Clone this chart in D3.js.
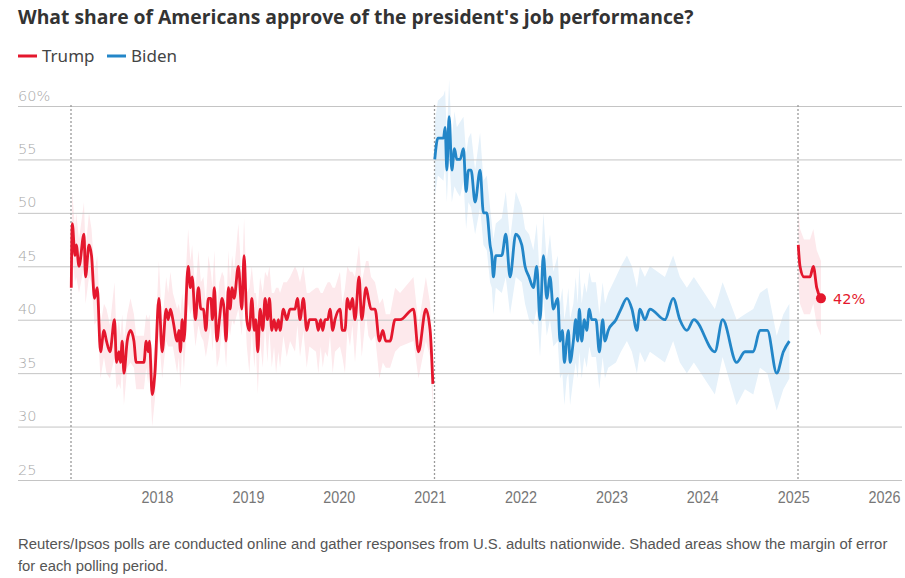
<!DOCTYPE html>
<html><head><meta charset="utf-8">
<script src="https://cdn.jsdelivr.net/npm/d3@7"></script>
<style>
body{margin:0;background:#fff;}
svg{display:block;}
</style></head><body>
<svg id="chart" width="905" height="578"></svg>
<script>
// ---------- DATA ----------
const titleText = "What share of Americans approve of the president's job performance?";
const footLines = ["Reuters/Ipsos polls are conducted online and gather responses from U.S. adults nationwide. Shaded areas show the margin of error",
                   "for each polling period."];
const seriesNames = ["Trump", "Biden"];
const yTicks = [25, 30, 35, 40, 45, 50, 55, 60];
const xTickYears = [2018, 2019, 2020, 2021, 2022, 2023, 2024, 2025, 2026];
const inaugurations = ["2017-01-20", "2021-01-20", "2025-01-20"];

// dates as decimal years
const trumpDates = [
 2017.055,2017.066,2017.096,2017.110,2017.140,2017.195,2017.212,2017.250,2017.278,2017.311,
 2017.341,2017.377,2017.415,2017.443,2017.481,2017.531,2017.553,2017.580,2017.597,2017.616,
 2017.635,2017.671,2017.707,2017.745,2017.770,2017.855,2017.880,2017.902,2017.916,2017.946,
 2017.976,2018.020,2018.056,2018.100,2018.122,2018.147,2018.174,2018.221,2018.240,2018.257,
 2018.276,2018.295,2018.342,2018.367,2018.386,2018.422,2018.455,2018.482,2018.510,2018.537,
 2018.565,2018.592,2018.609,2018.631,2018.658,2018.686,2018.716,2018.738,2018.760,2018.785,
 2018.804,2018.826,2018.848,2018.895,2018.933,2018.958,2018.988,2019.016,2019.043,2019.071,
 2019.087,2019.109,2019.134,2019.164,2019.189,2019.215,2019.237,2019.263,2019.288,2019.310,
 2019.336,2019.354,2019.391,2019.428,2019.464,2019.519,2019.545,2019.574,2019.611,2019.648,
 2019.677,2019.750,2019.775,2019.802,2019.824,2019.849,2019.879,2019.904,2019.934,2019.959,
 2020.014,2020.040,2020.069,2020.095,2020.124,2020.150,2020.179,2020.223,2020.253,2020.300,
 2020.326,2020.355,2020.399,2020.447,2020.484,2020.517,2020.564,2020.619,2020.674,2020.821,
 2020.876,2020.957,2021.004,2021.034];
const trumpApproval = [
 43,49,46,47,45,48,44,47,46,42,
 43,37,39,38,37,40,36,37,36,38,
 35,38,39,38,36,36,38,37,38,33,
 35,42,37,41,40,41,40,38,39,37,
 40,38,45,43,44,40,43,41,41,39,
 42,42,40,43,38,40,42,41,38,43,
 41,43,42,45,41,46,40,39,42,39,
 40,37,41,39,42,40,42,39,40,39,
 40,39,41,40,41,41,42,40,42,39,
 40,40,39,40,39,40,40,41,39,40,
 41,39,39,42,41,42,40,44,40,43,
 42,41,41,38,39,38,38,40,40,41,
 37,41,39,34];
const trumpMargin = [
 2.5,3,2.5,3,2.5,3,2.5,3,2.5,2.5,
 3,2.5,2.5,3,2.5,3.5,2.5,3,2.5,2.5,
 3,2.5,3,2.5,2.5,2.5,2.5,3,2.5,3,
 2.5,3.5,2.5,3,2.5,3.5,2.5,3,2.5,3.5,
 2.5,3,3.5,2.5,3,2.5,3.5,2.5,3,2.5,
 4,2.5,3,3.5,2.5,3.5,2.5,3,2.5,3.5,
 2.5,3,2.5,4,2.5,3.5,2.5,4,3,3.5,
 2.5,4,3,3.5,2.5,4,3,3.5,2.5,4,
 3,3.5,2.5,3.5,3,4,2.5,3.5,3,3.5,
 2.5,3,4,2.5,3.5,3,3.5,2.5,4,3,
 3.5,2.5,4,3,3.5,2.5,4,3,3.5,2.5,
 3.5,3,2.5,3.5,3,2.5,2.5,3,2.5,3,
 2.5,3,2.5,2.5];

const bidenDates = [
 2021.055,2021.089,2021.151,2021.169,2021.188,2021.213,2021.243,2021.272,2021.298,2021.334,
 2021.371,2021.400,2021.426,2021.455,2021.499,2021.554,2021.591,2021.628,2021.664,2021.683,
 2021.701,2021.727,2021.793,2021.837,2021.884,2021.947,2022.013,2022.049,2022.093,2022.141,
 2022.178,2022.214,2022.251,2022.288,2022.324,2022.361,2022.409,2022.434,2022.460,2022.482,
 2022.508,2022.526,2022.545,2022.581,2022.607,2022.629,2022.647,2022.673,2022.702,2022.728,
 2022.757,2022.783,2022.830,2022.867,2022.904,2022.929,2022.965,2023.050,2023.105,2023.171,
 2023.226,2023.281,2023.314,2023.369,2023.424,2023.589,2023.680,2023.754,2023.831,2023.908,
 2024.139,2024.224,2024.378,2024.469,2024.561,2024.634,2024.715,2024.818,2024.891,2024.957];
const bidenApproval = [
 55,57,57,58,54,59,54,56,55,55,
 56,52,54,54,51,54,50,50,47,46,
 44,46,46,48,44,48,47,45,44,43,
 45,40,46,42,44,41,42,38,39,36,
 38,39,36,38,40,38,41,38,40,39,
 41,40,40,37,40,38,39,40,41,42,
 41,39,41,40,41,40,42,40,39,40,
 37,40,36,37,37,39,39,35,37,38];
const bidenMargin = [
 3.5,3.5,4,3.5,3,3.5,3,3.5,3,3.5,
 3,3.5,3,3.5,3,3.5,3,3.5,3.5,3,
 3.5,3,3.5,4,3.5,4,3.5,3.5,4,3.5,
 4,3.5,4,3.5,4,3.5,4,3.5,4,4,
 3.5,4,4,3.5,4,3.5,4,3.5,3.5,3.5,
 3.5,3.5,3.5,3.5,3.5,3.5,3.5,4,4,4,
 4,4,4,4,4,4,4,4,4,4,
 4,3.5,4,3.5,4,3.5,4,3.5,3.5,3.5];

const trump2Dates = [2025.055,2025.074,2025.118,2025.184,2025.221,2025.258,2025.305];
const trump2Approval = [47,45,44,44,45,43,42];
const trump2Margin = [3.5,3.5,3.5,3.5,3.5,3.5,3.5];

// ---------- STYLE ----------
const RED = "#e4172d", BLUE = "#2386c8";
const RED_BAND = "#fde9ec", BLUE_BAND = "#e5f1fa";

const svg = d3.select("#chart");

function toDate(y){
  const yr = Math.floor(y);
  const a = Date.UTC(yr,0,1), b = Date.UTC(yr+1,0,1);
  return new Date(a + (y-yr)*(b-a));
}
function build(dates, vals, moe){
  return dates.map((d,i)=>({date:toDate(d), v:vals[i], m:moe[i]}));
}
const trump1 = build(trumpDates, trumpApproval, trumpMargin);
const biden = build(bidenDates, bidenApproval, bidenMargin);
const trump2 = build(trump2Dates, trump2Approval, trump2Margin);

const x = d3.scaleUtc()
  .domain([new Date(inaugurations[0]), new Date(inaugurations[2])])
  .range([71, 798]);
const y = d3.scaleLinear().domain([25, 60]).range([480, 106]);

const gridLeft = 18, gridRight = 902;

// bands
const band = d3.area().x(d=>x(d.date)).y0(d=>y(d.v-d.m)).y1(d=>y(d.v+d.m)).curve(d3.curveLinear);
svg.append("path").datum(trump1).attr("d", band).attr("fill", RED_BAND);
svg.append("path").datum(biden).attr("d", band).attr("fill", BLUE_BAND);
svg.append("path").datum(trump2).attr("d", band).attr("fill", RED_BAND);

// y grid + labels
const yAxis = d3.axisRight(y).tickValues(yTicks).tickSize(gridRight-gridLeft)
  .tickFormat(d => d === 60 ? "60%" : String(d));
const gy = svg.append("g").attr("transform", `translate(${gridLeft},0)`).call(yAxis);
gy.select(".domain").remove();
gy.selectAll(".tick line").attr("stroke", "#c4c4c4").attr("stroke-width", 1);
gy.selectAll(".tick text").attr("x", 0).attr("y", 0).attr("dy", -6).attr("text-anchor", "start")
  .attr("fill", "#a8a8a8").style("font-family", "'DejaVu Sans', sans-serif")
  .style("font-size", "14.5px").style("font-weight", 300);

// horizontal squeeze helper (condensed look)
function squeeze(sel, target){
  sel.each(function(){
    const w = this.getComputedTextLength();
    const s = Math.min(1, target / w);
    const t = d3.select(this);
    const prev = t.attr("transform") || "";
    t.attr("transform", prev + ` scale(${s},1)`);
  });
}

// x labels
const sansFam = "'Liberation Sans','Noto Sans',sans-serif";
const xAxis = d3.axisBottom(x).tickValues(xTickYears.map(yv => new Date(Date.UTC(yv,0,1))))
  .tickSize(0).tickFormat(d3.utcFormat("%Y"));
const gx = svg.append("g").attr("transform", `translate(0,480)`).call(xAxis);
gx.select(".domain").remove();
gx.selectAll(".tick text").attr("dy", 0).attr("y", 23).attr("fill", "#777")
  .style("font-family", sansFam)
  .style("font-size", "17px");
squeeze(gx.selectAll(".tick text"), 32);

// inauguration dotted lines
svg.append("g").selectAll("line").data(inaugurations).join("line")
  .attr("x1", d=>x(new Date(d))).attr("x2", d=>x(new Date(d)))
  .attr("y1", 105).attr("y2", 480)
  .attr("stroke", "#9a9a9a").attr("stroke-width", 1.3).attr("stroke-dasharray", "2,2");

// lines
const line = d3.line().x(d=>x(d.date)).y(d=>y(d.v)).curve(d3.curveMonotoneX);
[[trump1, RED], [biden, BLUE], [trump2, RED]].forEach(([data, col]) => {
  svg.append("path").datum(data).attr("d", line).attr("fill","none")
    .attr("stroke", col).attr("stroke-width", 2.8).attr("stroke-linejoin","round");
});

// end dot + label
const last = trump2[trump2.length-1];
svg.append("circle").attr("cx", x(last.date)).attr("cy", y(last.v)).attr("r", 5).attr("fill", RED);
svg.append("text").attr("x", x(last.date)+12).attr("y", y(last.v)+6)
  .attr("fill", RED).style("font-family","'DejaVu Sans',sans-serif").style("font-size","14.5px")
  .text(last.v + "%");

// title
const title = svg.append("text").attr("x", 18).attr("y", 24)
  .attr("fill", "#333").style("font-family","'Open Sans',sans-serif").style("font-weight", 700)
  .style("font-size","19px").text(titleText);
{
  const w = title.node().getComputedTextLength();
  title.style("font-size", (19*676/w) + "px");
}

// legend
const legItems = [{name: seriesNames[0], color: RED, x: 18}, {name: seriesNames[1], color: BLUE, x: 107}];
const legend = svg.append("g");
legItems.forEach(it => {
  legend.append("line").attr("x1", it.x).attr("x2", it.x+19).attr("y1", 56).attr("y2", 56)
    .attr("stroke", it.color).attr("stroke-width", 3);
  legend.append("text").attr("x", it.x+24).attr("y", 62).attr("fill", "#444")
    .style("font-family","'Noto Sans',sans-serif").style("font-size","17px").text(it.name);
});

// footnote (condensed look via horizontal scale)
const footWidths = [870, 150];
footLines.forEach((t,i) => {
  const el = svg.append("text").attr("transform", `translate(18,${549 + i*22})`).attr("fill", "#555")
    .style("font-family", sansFam).style("font-size", "15.5px")
    .text(t);
  squeeze(el, footWidths[i]);
});
</script>
</body></html>
